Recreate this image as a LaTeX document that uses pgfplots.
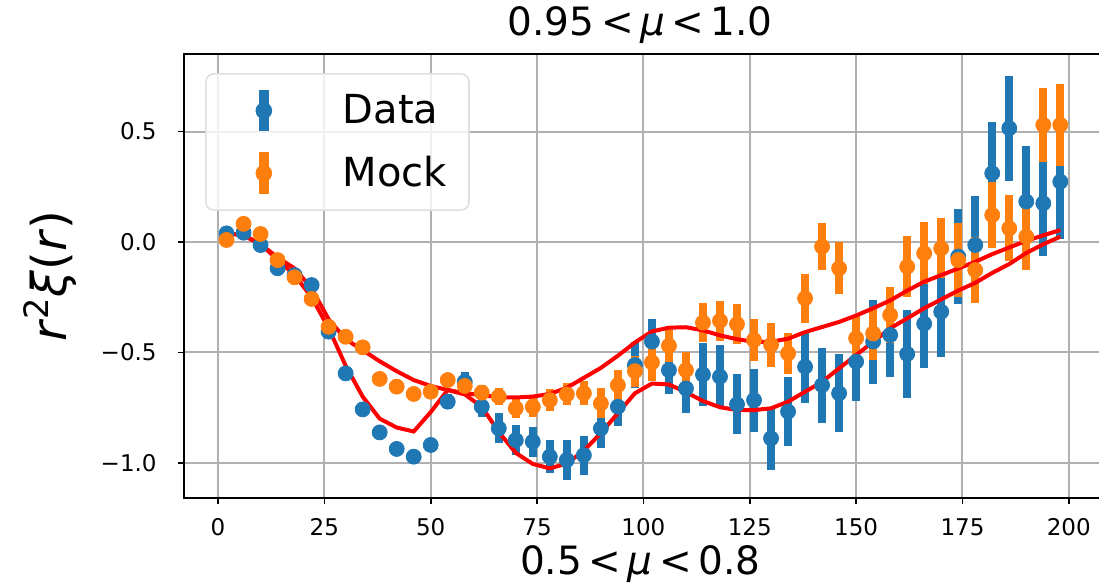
\documentclass[border=0pt]{standalone}
\usepackage{fontspec}
\setmainfont{DejaVu Sans}
\usepackage{pgfplots}
\pgfplotsset{compat=1.18}
\usepackage{pgfplotstable}
\definecolor{tabblue}{HTML}{1F77B4}
\definecolor{taborange}{HTML}{FF7F0E}
\definecolor{gridgray}{HTML}{B0B0B0}

\pgfplotstableread{
r v e
2 0.039 0.010
6 0.042 0.010
10 -0.014 0.010
14 -0.119 0.012
18 -0.150 0.012
22 -0.195 0.015
26 -0.406 0.015
30 -0.595 0.020
34 -0.758 0.020
38 -0.862 0.020
42 -0.937 0.025
46 -0.972 0.025
50 -0.919 0.030
54 -0.723 0.035
58 -0.633 0.045
62 -0.746 0.045
66 -0.844 0.068
70 -0.897 0.068
74 -0.904 0.068
78 -0.972 0.075
82 -0.987 0.090
86 -0.965 0.088
90 -0.844 0.090
94 -0.746 0.085
98 -0.557 0.106
102 -0.451 0.102
106 -0.580 0.110
110 -0.663 0.110
114 -0.600 0.143
118 -0.610 0.143
122 -0.735 0.136
126 -0.716 0.143
130 -0.889 0.143
134 -0.768 0.155
138 -0.565 0.162
142 -0.648 0.170
146 -0.685 0.176
150 -0.542 0.180
154 -0.451 0.190
158 -0.421 0.190
162 -0.507 0.200
166 -0.370 0.200
170 -0.316 0.205
174 -0.066 0.215
178 -0.014 0.220
182 0.311 0.234
186 0.515 0.238
190 0.183 0.250
194 0.175 0.240
198 0.273 0.260
}\datatab

\pgfplotstableread{
r v e
2 0.009 0.010
6 0.082 0.010
10 0.036 0.010
14 -0.082 0.010
18 -0.160 0.012
22 -0.258 0.012
26 -0.384 0.015
30 -0.429 0.015
34 -0.477 0.015
38 -0.620 0.020
42 -0.655 0.020
46 -0.688 0.020
50 -0.678 0.025
54 -0.625 0.025
58 -0.652 0.030
62 -0.682 0.035
66 -0.700 0.040
70 -0.753 0.045
74 -0.746 0.045
78 -0.716 0.050
82 -0.690 0.050
86 -0.685 0.055
90 -0.731 0.068
94 -0.648 0.068
98 -0.585 0.070
102 -0.545 0.083
106 -0.470 0.075
110 -0.580 0.080
114 -0.365 0.087
118 -0.357 0.090
122 -0.372 0.090
126 -0.444 0.094
130 -0.466 0.100
134 -0.504 0.094
138 -0.255 0.110
142 -0.021 0.108
146 -0.119 0.117
150 -0.436 0.100
154 -0.414 0.120
158 -0.331 0.127
162 -0.112 0.137
166 -0.051 0.140
170 -0.029 0.136
174 -0.082 0.166
178 -0.127 0.150
182 0.122 0.150
186 0.062 0.150
190 0.024 0.150
194 0.530 0.167
198 0.530 0.187
}\mocktab

\pgfplotstableread{
r u l
2 0.040 0.040
6 0.030 0.030
10 -0.010 -0.010
14 -0.070 -0.080
18 -0.120 -0.150
22 -0.210 -0.250
26 -0.350 -0.390
30 -0.440 -0.560
34 -0.490 -0.700
38 -0.540 -0.800
42 -0.585 -0.840
46 -0.625 -0.858
50 -0.652 -0.770
54 -0.670 -0.670
58 -0.685 -0.690
62 -0.693 -0.746
66 -0.703 -0.860
70 -0.704 -0.955
74 -0.700 -1.005
78 -0.688 -1.025
82 -0.660 -1.003
86 -0.615 -0.945
90 -0.570 -0.865
94 -0.515 -0.775
98 -0.455 -0.685
102 -0.405 -0.641
106 -0.388 -0.645
110 -0.386 -0.680
114 -0.400 -0.720
118 -0.423 -0.748
122 -0.440 -0.761
126 -0.452 -0.761
130 -0.452 -0.753
134 -0.438 -0.723
138 -0.408 -0.678
142 -0.385 -0.633
146 -0.362 -0.572
150 -0.333 -0.512
154 -0.300 -0.452
158 -0.265 -0.391
162 -0.220 -0.346
166 -0.180 -0.300
170 -0.150 -0.260
174 -0.120 -0.220
178 -0.090 -0.185
182 -0.055 -0.140
186 -0.025 -0.100
190 0.005 -0.050
194 0.030 -0.010
198 0.054 0.024
}\modeltab

\begin{document}
\begin{tikzpicture}
\path[use as bounding box] (-92pt,-44.5pt) rectangle (457.5pt,249pt);
\begin{axis}[
  at={(0pt,0pt)}, anchor=south west,
  scale only axis, width=459pt, height=222pt,
  xmin=-8, xmax=207.8, ymin=-1.159, ymax=0.851,
  xtick={0,25,50,75,100,125,150,175,200},
  xticklabels={0,25,50,75,100,125,150,175,200},
  ytick={-1,-0.5,0,0.5},
  yticklabels={−1.0,−0.5,0.0,0.5},
  xtick pos=left, ytick pos=left,
  tick align=outside,
  major tick length=3pt,
  tick style={black, line width=0.8pt},
  axis line style={black, line width=1pt},
  grid=major,
  major grid style={gridgray, line width=1pt},
  ticklabel style={font=\fontsize{11.5}{13}\selectfont},
  xticklabel style={anchor=base, inner sep=0pt, yshift=-16pt},
  yticklabel style={anchor=east, inner sep=0pt, xshift=-10.5pt},
  title={0.95\,<\,\textit{μ}\,<\,1.0},
  title style={at={(axis description cs:0.497,1)}, anchor=base, yshift=3pt, font=\fontsize{19.5}{23}\selectfont},
  xlabel={0.5\,<\,\textit{μ}\,<\,0.8},
  xlabel style={at={(axis description cs:0.497,0)}, anchor=base, yshift=-38.5pt, font=\fontsize{19.5}{23}\selectfont},
  ylabel={\textit{r}\textsuperscript{2}\textit{ξ}(\textit{r})},
  ylabel style={at={(axis description cs:-0.146,0.5)}, anchor=center, font=\fontsize{24}{28}\selectfont},
  legend cell align=left,
  legend style={at={(0.0229,0.957)}, anchor=north west,
    draw=gray!25, line width=0.8pt, rounded corners=4pt,
    fill=white, fill opacity=0.8, text opacity=1,
    inner xsep=11pt, inner ysep=8pt,
    font=\fontsize{20}{24}\selectfont,
    row sep=10.5pt, /tikz/column sep=21.5pt,
    nodes={inner sep=0pt}},
]
\addplot[only marks, tabblue, mark=*, mark size=3.75pt, mark options={draw=none, fill=tabblue},
  legend image code/.code={
    \path[draw=none, fill=none] (0pt,-10pt) rectangle (36pt,10pt);
    \fill[tabblue, fill opacity=1, rounded corners=0pt] (16pt,-10pt) rectangle (20pt,10pt);
    \fill[tabblue, fill opacity=1] (18pt,0pt) circle (3.75pt);
  },
  error bars/.cd, y dir=both, y explicit, error mark=none,
  error bar style={line width=4pt, tabblue}]
  table[x=r, y=v, y error=e] {\datatab};
\addlegendentry{Data}
\addplot[only marks, taborange, mark=*, mark size=3.75pt, mark options={draw=none, fill=taborange},
  legend image code/.code={
    \path[draw=none, fill=none] (0pt,-10pt) rectangle (36pt,10pt);
    \fill[taborange, fill opacity=1, rounded corners=0pt] (16pt,-10pt) rectangle (20pt,10pt);
    \fill[taborange, fill opacity=1] (18pt,0pt) circle (3.75pt);
  },
  error bars/.cd, y dir=both, y explicit, error mark=none,
  error bar style={line width=4pt, taborange}]
  table[x=r, y=v, y error=e] {\mocktab};
\addlegendentry{Mock}
\addplot[red, line width=2pt, no marks, forget plot] table[x=r, y=u] {\modeltab};
\addplot[red, line width=2pt, no marks, forget plot] table[x=r, y=l] {\modeltab};
\end{axis}
\end{tikzpicture}
\end{document}
